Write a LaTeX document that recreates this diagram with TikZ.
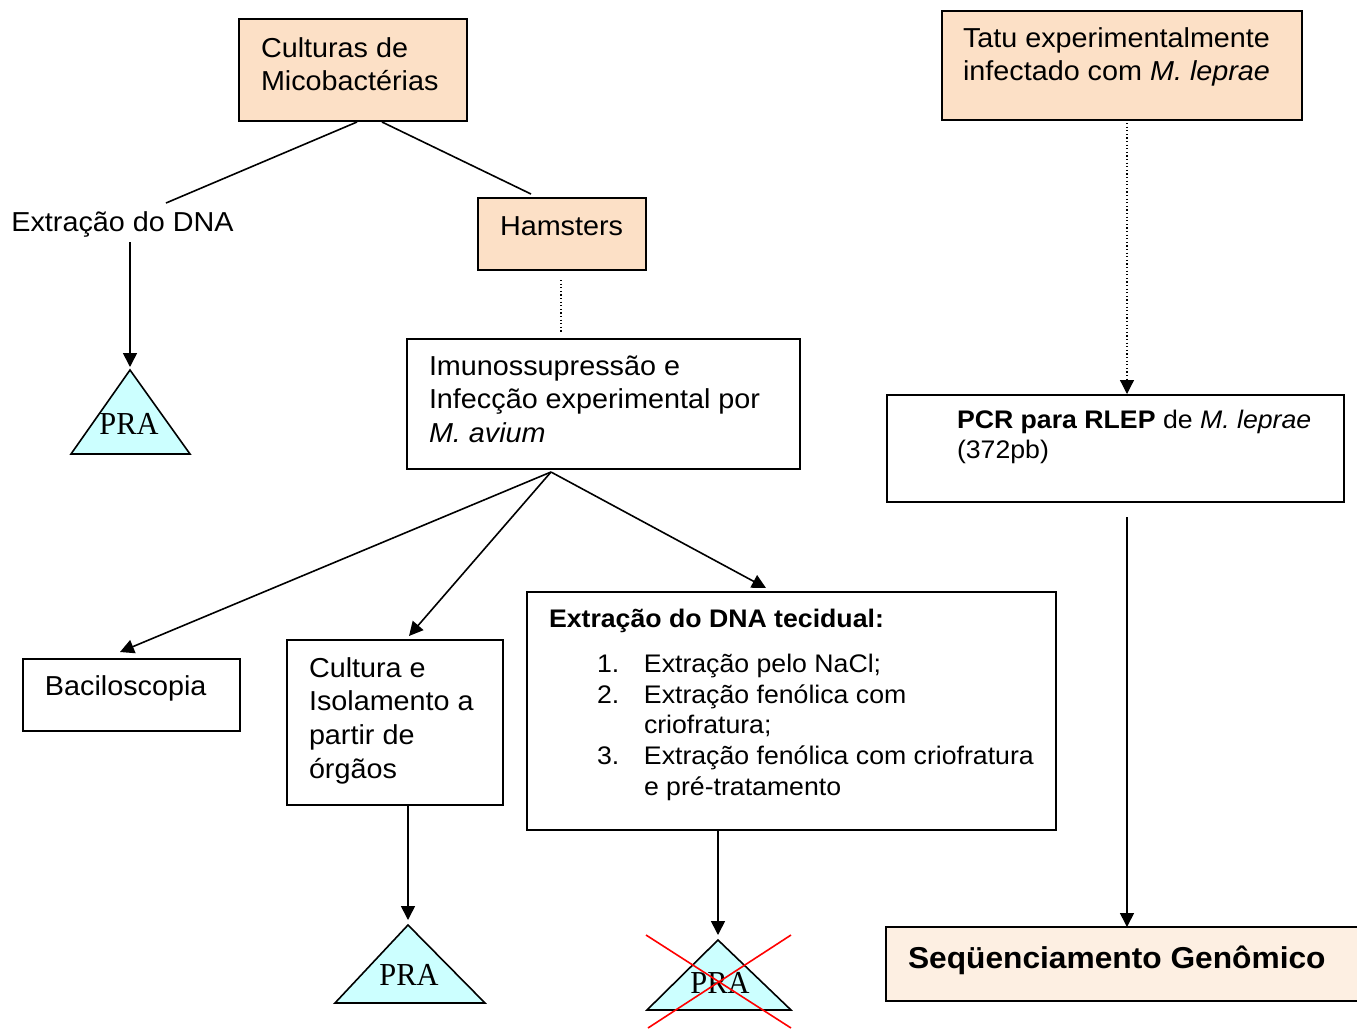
\documentclass[tikz,border=0pt]{standalone}
\usepackage{fontspec}
\setmainfont[FakeStretch=1.05]{Liberation Sans}
\newfontfamily\prafont[FakeStretch=0.95]{Liberation Serif}
\usetikzlibrary{arrows.meta,calc}
\definecolor{peach}{RGB}{252,224,198}
\definecolor{peachlt}{RGB}{253,239,226}
\definecolor{pracyan}{RGB}{204,255,255}
\newcommand\fmain{\fontsize{13.7pt}{16.9pt}\selectfont}
\newcommand\fsmall{\fontsize{12.7pt}{15.35pt}\selectfont}
\newcommand\fseq{\fontsize{15.1pt}{17pt}\selectfont}
\newcommand\bxc[5]{\vbox to #2{\hrule height 0pt width #1\relax\setbox0=\hbox{#5}\vskip\dimexpr#4-\ht0\relax\moveright#3\box0\vss}}
\newcommand\lns[1]{\begin{tabular}[t]{@{}l@{}}#1\end{tabular}}
\tikzset{
  box/.style={draw, line width=1pt, inner sep=0pt, anchor=north west},
  ln/.style={line width=0.8pt},
  arr/.style={line width=0.8pt, -{Triangle[length=7pt,width=7pt]}},
  dots/.style={line width=0.6pt, dash pattern=on 0.6pt off 1.2pt},
  tri/.style={draw, line width=0.8pt, fill=pracyan, line join=miter},
  pra/.style={inner sep=0pt, font=\prafont\fontsize{16pt}{18pt}\selectfont},
  cross/.style={red, line width=0.8pt}
}
\begin{document}
\begin{tikzpicture}[x=0.5pt,y=-0.5pt]
\useasboundingbox (0,0) rectangle (1357,1030);

% boxes
\node[box, fill=peach] (cult) at (238,18) {\bxc{114pt}{51pt}{11pt}{19pt}{\fmain\lns{Culturas de\\Micobactérias}}};
\node[box, fill=peach] (tatu) at (941,10) {\bxc{180pt}{54.5pt}{10.5pt}{18pt}{\fmain\lns{Tatu experimentalmente\\infectado com \textit{M. leprae}}}};
\node[box, fill=peach] (hams) at (477,197) {\bxc{84pt}{36pt}{11pt}{18.5pt}{\fmain Hamsters}};
\node[inner sep=0pt, anchor=base west] (dna) at (11,231) {\fmain Extração do DNA};
\node[box] (imuno) at (406,338) {\bxc{196.5pt}{65pt}{11pt}{18pt}{\fmain\lns{Imunossupressão e\\Infecção experimental por\\\textit{M. avium}}}};
\node[box] (bac) at (22,658) {\bxc{108.5pt}{36pt}{11pt}{18pt}{\fmain Baciloscopia}};
\node[box] (cultiso) at (286,639) {\bxc{108pt}{82.5pt}{11pt}{18.5pt}{\fmain\lns{Cultura e\\Isolamento a\\partir de\\órgãos}}};
\node[box] (ext) at (526,591) {\bxc{264.5pt}{119pt}{11pt}{17.5pt}{\fsmall\begin{tabular}[t]{@{}p{24pt}@{}p{23.5pt}@{}l@{}}\multicolumn{3}{@{}l@{}}{\bfseries Extração do DNA tecidual:}\\[7.4pt]
 & 1. & Extração pelo NaCl;\\
 & 2. & Extração fenólica com\\
 & & criofratura;\\
 & 3. & Extração fenólica com criofratura\\
 & & e pré-tratamento\end{tabular}}};
\node[box] (pcr) at (886,394) {\bxc{228.5pt}{53.5pt}{35pt}{16.5pt}{\fsmall\lns{\textbf{PCR para RLEP} de \textit{M. leprae}\\(372pb)}}};
\node[box, draw=none, fill=peachlt] (seq) at (886,927) {\bxc{240.5pt}{36pt}{10.5pt}{20pt}{\fseq\bfseries Seqüenciamento Genômico}};
\draw[line width=1pt] (seq.north east) -- (seq.north west) -- (seq.south west) -- (seq.south east);

% triangles
\coordinate (t1) at (130,370);
\coordinate (t2) at (408,925);
\coordinate (t3) at (718,940);
\draw[tri] (t1) -- (190,454) -- (71,454) -- cycle;
\draw[tri] (t2) -- (485,1003) -- (335,1003) -- cycle;
\draw[tri] (t3) -- (791,1010) -- (647,1010) -- cycle;
\node[pra] (p1) at (129,424) {PRA};
\node[pra] (p2) at (409,975) {PRA};
\node[pra] (p3) at (720,983) {PRA};
\coordinate (x1) at (646,935);
\coordinate (x2) at (791,1028);
\coordinate (x3) at (791,935);
\coordinate (x4) at (648,1028);
\draw[cross] (x1) -- (x2);
\draw[cross] (x3) -- (x4);

% connectors
\coordinate (dnatop) at (166,203);
\draw[ln] ($(cult.south west)+(119,0)$) -- (dnatop);
\draw[ln] ($(cult.south west)+(144,0)$) -- ($(hams.north west)+(54,-3)$);
\draw[dots] ($(hams.south west)+(84,9)$) -- ($(imuno.north west)+(155,-6)$);
\draw[arr, shorten >=1.5pt] ($(t1 |- dna.south)+(0,5)$) -- (t1);
\coordinate (imb) at ($(imuno.south west)+(145,2)$);
\draw[arr] (imb) -- ($(bac.north west)+(98,-6)$);
\draw[arr] (imb) -- ($(cultiso.north west)+(123,-3)$);
\draw[arr] (imb) -- ($(ext.north west)+(240,-3)$);
\draw[arr, shorten >=2.5pt] ($(cultiso.south west)+(122,0)$) -- (t2);
\draw[arr, shorten >=2.5pt] ($(ext.south west)+(192,0)$) -- (t3);
\draw[dots, -{Triangle[length=7pt,width=7pt]}] ($(tatu.south west)+(186,2)$) -- ($(pcr.north west)+(241,0)$);
\draw[arr] ($(pcr.south west)+(241,14)$) -- ($(seq.north west)+(241,0)$);
\end{tikzpicture}
\end{document}
